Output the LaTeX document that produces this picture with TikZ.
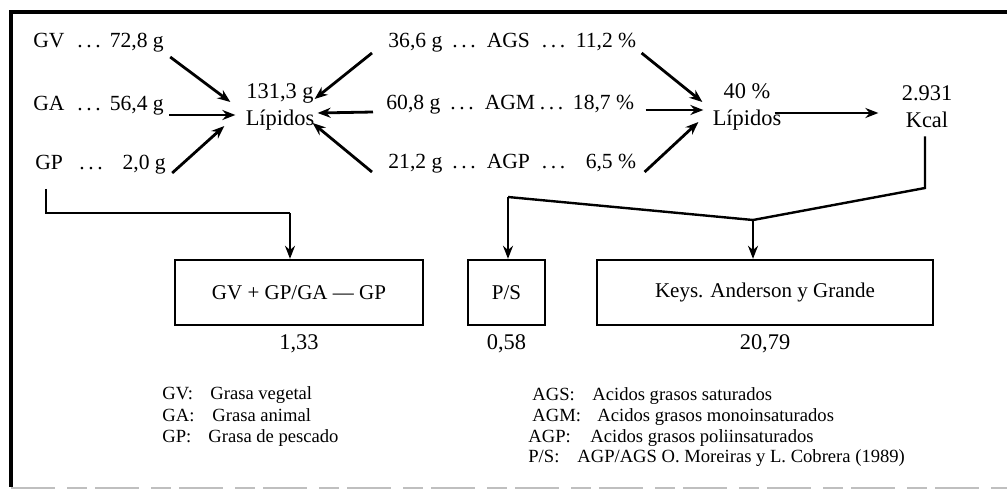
\documentclass[tikz,border=0pt]{standalone}
\usepackage{fontspec}
\setmainfont{Liberation Serif}
\usetikzlibrary{arrows.meta,calc,positioning}
\newcommand\puntos{.\kern1.8pt.\kern1.8pt.}
\newcommand\grasa[2]{\makebox[22pt][l]{#1}\puntos\makebox[31.5pt][r]{#2}}
\newcommand\acido[3]{\makebox[32pt][l]{#1}\puntos\hspace{5.5pt}%
  \makebox[27.5pt][l]{#2}\puntos\makebox[35.5pt][r]{#3}}

\begin{document}
\begin{tikzpicture}[x=0.5pt, y=-0.5pt,
    txt/.style={inner sep=0pt, font=\fontsize{11.2}{13.5}\selectfont},
    row/.style={inner sep=0pt, anchor=west, font=\fontsize{10.8}{13}\selectfont},
    stack/.style={txt, align=center},
    leg/.style={inner sep=0pt, anchor=base west, font=\fontsize{9.3}{11}\selectfont},
    arr/.style={-{Stealth[length=6.5pt,width=5pt]}, line width=1.4pt},
    wire/.style={line width=1.2pt},
    res/.style={draw, line width=1.2pt, minimum height=32.5pt, inner sep=0pt,
                font=\fontsize{10.5}{12.5}\selectfont}]
  \useasboundingbox (0,0) rectangle (1007,498);
  % Frame
  \draw[line width=2.2pt] (1007,12) -- (11,12) -- (11,487);
  \draw[black!25, line width=0.8pt, dash pattern=on 22pt off 6pt on 10pt off 4pt]
    (11,488) -- (1007,488);
  % Grasas
  \node[row] (gv) at (33,43)  {\grasa{GV}{72,8 g}};
  \node[row] (ga) at (33,106) {\grasa{GA}{56,4 g}};
  \node[row] (gp) at (35,165) {\grasa{GP}{2,0 g}};
  \node[stack] (lipA) at (280,107) {131,3 g\\Lípidos};
  % Acidos grasos
  \node[row] (ags) at (388,43)  {\acido{36,6 g}{AGS}{11,2 \%}};
  \node[row] (agm) at (386,105) {\acido{60,8 g}{AGM}{18,7 \%}};
  \node[row] (agp) at (388,164) {\acido{21,2 g}{AGP}{6,5 \%}};
  \node[stack] (lipB) at (747,107) {40 \%\\Lípidos};
  \node[stack] (kcal) at (927,107) {2.931\\Kcal};
  % Arrows
  \draw[arr] ($(gv.east)+(6,14)$) -- ($(lipA.west)+(-15,-5)$);
  \draw[arr] ($(ga.east)+(5,9)$)  -- ($(lipA.west)+(-10,8)$);
  \draw[arr] ($(gp.east)+(6,8)$)  -- ($(lipA.west)+(-21,19)$);
  \draw[arr] ($(ags.west)+(-16,10)$) -- ($(lipA.east)+(0,-8)$);
  \draw[arr] ($(agm.west)+(-13,7)$)  -- ($(lipA.east)+(3,6)$);
  \draw[arr] ($(agp.west)+(-16,8)$)  -- ($(lipA.east)+(-2,16)$);
  \draw[arr] ($(ags.east)+(5,10)$) -- ($(lipB.west)+(-10,-5)$);
  \draw[arr] ($(agm.east)+(11,5)$) -- ($(lipB.west)+(-9,3)$);
  \draw[arr] ($(agp.east)+(8,8)$)  -- ($(lipB.west)+(-14,15)$);
  \draw[arr] ($(lipB.east)+(-7,6)$) -- ($(kcal.west)+(-23,6)$);
  % Indices
  \node[res, minimum width=124pt] (boxG) at (299,292.5) {GV + GP/GA — GP};
  \node[res, minimum width=38.5pt] (boxPS) at (506.5,292.5) {P/S};
  \node[res, minimum width=168pt] (boxK) at (765,292.5) {Keys. Anderson y Grande};
  \node[txt, below=4pt of boxG]  (valG)  {1,33};
  \node[txt, below=4pt of boxPS] (valPS) {0,58};
  \node[txt, below=4pt of boxK]  (valK)  {20,79};
  \coordinate (split) at (753,220);
  \draw[wire] ($(gp.south west)+(11,14)$) |- (290,213) coordinate (bendG);
  \draw[arr] (bendG) -- ($(boxG.north)+(-9,0)$);
  \draw[wire] ($(kcal.south)+(-2,8)$) -- (925,188) -- (split) -- (508,197) coordinate (bendPS);
  \draw[arr] (bendPS) -- (boxPS.north -| bendPS);
  \draw[arr] (split) -- (boxK.north -| split);
  % Leyenda
  \foreach \k/\d/\x/\dx/\y [count=\i] in {GV:/Grasa vegetal/162/210/399,
      GA:/Grasa animal/162/212/421, GP:/Grasa de pescado/162/208/442,
      AGS:/Acidos grasos saturados/532/592/400,
      AGM:/Acidos grasos monoinsaturados/532/597/421,
      AGP:/Acidos grasos poliinsaturados/528/590/442,
      {P/S:}/{AGP/AGS O. Moreiras y L. Cobrera (1989)}/528/577/462}{
    \node[leg] (key\i) at (\x,\y) {\k};
    \node[leg] (def\i) at (\dx,\y) {\d};
  }
\end{tikzpicture}
\end{document}
